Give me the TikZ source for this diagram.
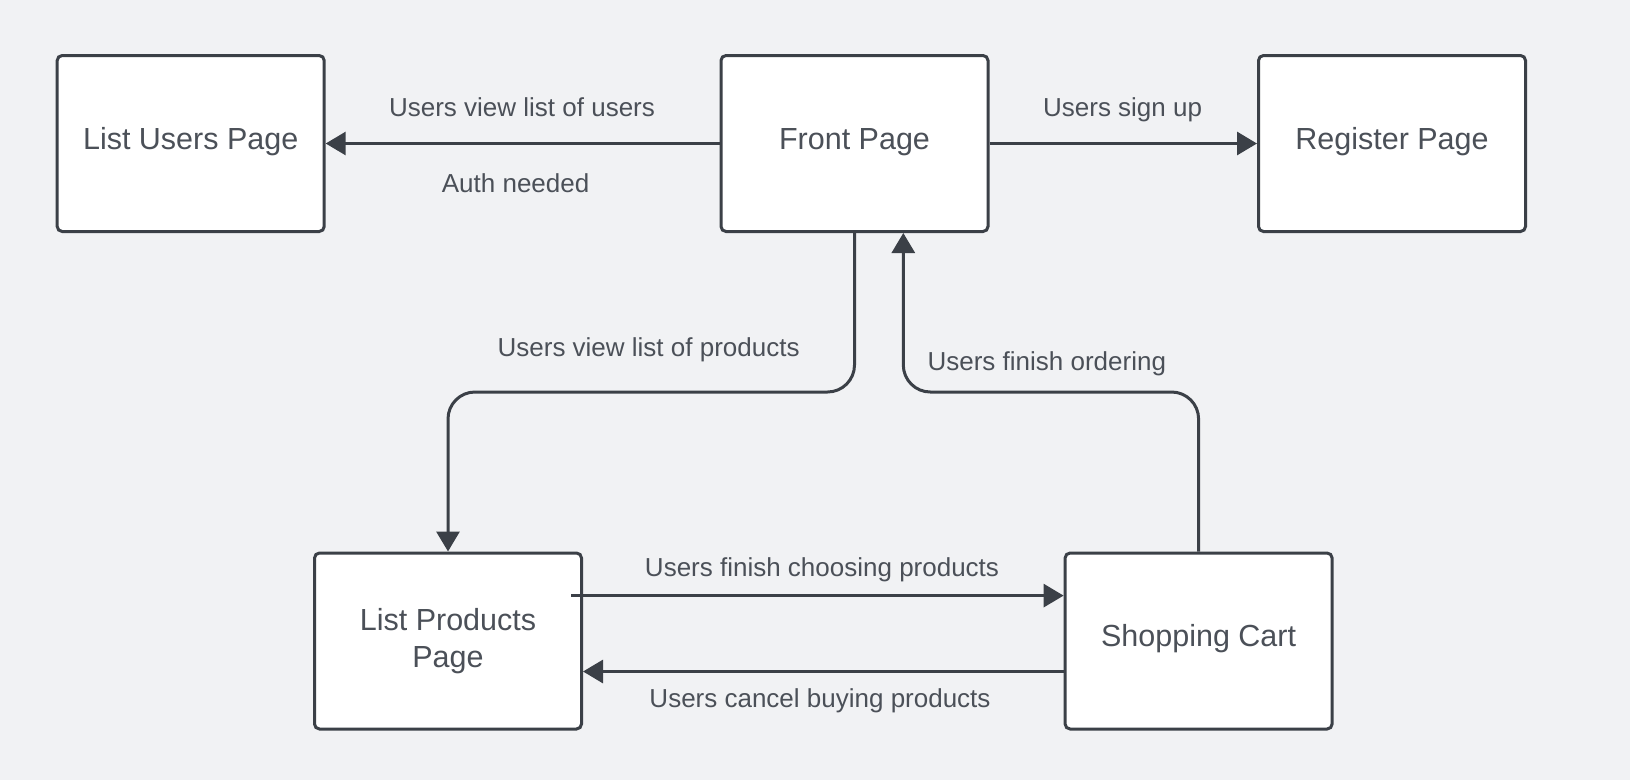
\documentclass[tikz,border=0pt]{standalone}
\usepackage{fontspec}
\setmainfont{Liberation Sans}
\usetikzlibrary{arrows.meta}
\definecolor{bg}{HTML}{F1F2F4}
\definecolor{ln}{HTML}{3B4047}
\definecolor{tx}{HTML}{4B5058}
\tikzset{
  box/.style={draw=ln, fill=white, line width=3pt, rounded corners=5pt,
    minimum width=267pt, minimum height=176pt, inner sep=0pt, text=tx,
    align=center, font=\fontsize{30.5}{36.5}\selectfont},
  onebox/.style={box, text height=22pt, text depth=11pt},
  lbl/.style={text=tx, inner sep=0pt, text height=18.6pt, text depth=5.5pt,
    font=\fontsize{26}{31}\selectfont},
  arr/.style={draw=ln, line width=3pt, -{Triangle[length=20pt,width=23pt]}},
}
\begin{document}
\begin{tikzpicture}[x=1pt,y=-1pt]
\fill[bg] (0,0) rectangle (1630,780);
\useasboundingbox (0,0) rectangle (1630,780);
\node[onebox] (lu) at (190.7,143.5) {List Users Page};
\node[onebox] (fp) at (854.5,143.5) {Front Page};
\node[onebox] (rp) at (1392,143.5) {Register Page};
\node[box] (lp) at (448,641) {List Products\\Page};
\node[onebox] (sc) at (1198.6,641) {Shopping Cart};
\coordinate (mid) at (0,392);
\coordinate (fpin) at ([xshift=48.8pt]fp.south);
\coordinate (chs) at ([xshift=-11.8pt,yshift=45.4pt]lp.east);
\coordinate (can) at ([yshift=-30.5pt]sc.west);

\draw[arr] (fp.west) -- (lu.east);
\draw[arr] (fp.east) -- (rp.west);
\draw[arr, rounded corners=27pt] (fp.south) -- (fp.south |- mid) -- (lp.north |- mid) -- (lp.north);
\draw[arr, rounded corners=27pt] (sc.north) -- (sc.north |- mid) -- (fpin |- mid) -- (fpin);
\draw[arr] (chs) -- (sc.west |- chs);
\draw[arr] (can) -- (lp.east |- can);

\node[lbl] (l1) at (522,110) {Users view list of users};
\node[lbl] (l2) at (515.6,186) {Auth needed};
\node[lbl] (l3) at (1122.6,110) {Users sign up};
\node[lbl] (l4) at (648.6,350) {Users view list of products};
\node[lbl] (l5) at (1046.8,363.5) {Users finish ordering};
\node[lbl] (l6) at (822,569.5) {Users finish choosing products};
\node[lbl] (l7) at (820,700.5) {Users cancel buying products};
\end{tikzpicture}
\end{document}
